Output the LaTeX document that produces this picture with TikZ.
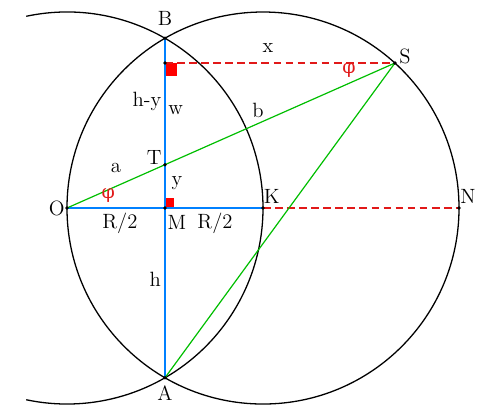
\documentclass[tikz,border=0pt]{standalone}
\usepackage{fontspec}
\newfontfamily\greekfont{DejaVu Serif}
\usetikzlibrary{calc}
\definecolor{lineblue}{RGB}{0,128,255}
\definecolor{linegreen}{RGB}{0,190,0}
\definecolor{dashred}{RGB}{225,25,25}
\begin{document}
\begin{tikzpicture}[
    circ/.style={black, line width=0.75pt},
    blueline/.style={draw=lineblue, line width=0.7pt},
    greenline/.style={draw=linegreen, line width=0.7pt},
    redline/.style={draw=dashred, line width=0.9pt, dash pattern=on 4.5pt off 2.5pt},
    dot/.style={circle, fill=black, inner sep=0pt, minimum size=2.2pt},
    lbl/.style={inner sep=1pt, font=\fontsize{12}{14}\selectfont},
    ang/.style={inner sep=1pt, text=dashred, font=\greekfont\fontsize{11}{13}\selectfont}]

    \useasboundingbox (-1.367,-4.184) rectangle (8.571,4.245);

    % points
    \coordinate (O) at (0,0);
    \coordinate (M) at (2,0);
    \coordinate (K) at (4,0);
    \coordinate (N) at (8,0);
    \coordinate (B) at (2,{2*sqrt(3)});
    \coordinate (A) at (2,{-2*sqrt(3)});
    \coordinate (S) at ($(K)+(47.7:4)$);
    \coordinate (P) at (B|-S);
    \coordinate (T) at (intersection of O--S and B--A);

    % right angles
    \fill[red] (P) rectangle ++(0.25,-0.265);
    \fill[red] (M) rectangle ++(0.18,0.2);

    % circles
    \draw[circ] (O) ++(102:4) arc[start angle=102, end angle=-102, radius=4];
    \draw[circ] (K) circle[radius=4];

    % lines
    \draw[redline] (P) -- (S);
    \draw[redline] (K) -- (N);
    \draw[blueline] (B) -- (A);
    \draw[blueline] (O) -- (K);
    \draw[greenline] (O) -- (S);
    \draw[greenline] (A) -- (S);

    \foreach \p in {O,M,K,N,B,A,S,P,T}
        \node[dot] (dot\p) at (\p) {};

    % labels
    \node[lbl] (lblB) at (2,3.86) {B};
    \node[lbl] (lblA) at (2,-3.78) {A};
    \node[lbl] (lblO) at (-0.21,0) {O};
    \node[lbl] (lblM) at (2.245,-0.29) {M};
    \node[lbl] (lblK) at (4.18,0.245) {K};
    \node[lbl] (lblN) at (8.18,0.245) {N};
    \node[lbl] (lblS) at (6.9,3.1) {S};
    \node[lbl] (lblT) at (1.78,1.04) {T};
    \node[lbl] (lblx) at (4.10,3.26) {x};
    \node[lbl] (lblhy) at (1.63,2.18) {h-y};
    \node[lbl] (lblw) at (2.22,2.0) {w};
    \node[lbl] (lblb) at (3.90,2.0) {b};
    \node[lbl] (lbla) at (1.0,0.82) {a};
    \node[lbl] (lbly) at (2.245,0.51) {y};
    \node[lbl] (lblh) at (1.80,-1.45) {h};
    \node[lbl] (lblRl) at (1.08,-0.31) {R/2};
    \node[lbl] (lblRr) at (3.02,-0.31) {R/2};
    \node[ang] (phiO) at (0.84,0.245) {φ};
    \node[ang] (phiS) at (5.755,2.8) {φ};
\end{tikzpicture}
\end{document}
